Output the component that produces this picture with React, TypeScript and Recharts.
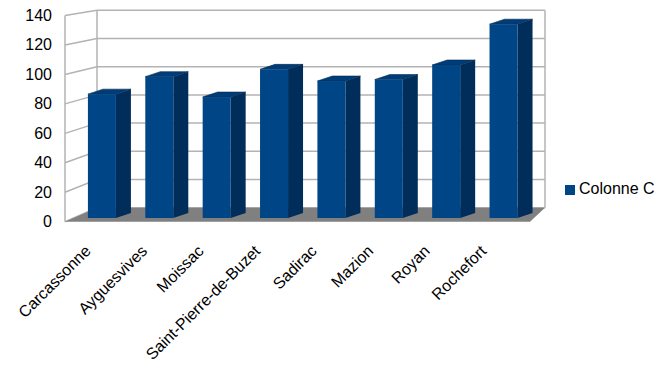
import React from 'react';
import { BarChart, Bar, XAxis, YAxis, CartesianGrid, Legend } from 'recharts';

const cities = ['Carcassonne', 'Ayguesvives', 'Moissac', 'Saint-Pierre-de-Buzet', 'Sadirac', 'Mazion', 'Royan', 'Rochefort'];
const colonneC = [85, 97, 83, 102, 94, 95, 105, 133];
const yTicks = [0, 20, 40, 60, 80, 100, 120, 140];

const data = cities.map((city, i) => ({ city, c: colonneC[i] }));

const W = 672;
const H = 378;
const MARGIN = { top: 14, right: 140, bottom: 0, left: 1 };
const Y_AXIS_W = 72;
const X_AXIS_H = 160;
const PLOT_LEFT = MARGIN.left + Y_AXIS_W;
const PLOT_RIGHT = W - MARGIN.right;
const PLOT_BOTTOM = H - MARGIN.bottom - X_AXIS_H;

const FONT = '"Liberation Sans", Arial, sans-serif';
const GRID = '#b3b3b3';
const FRONT = '#004586';
const SIDE = '#002d5a';
const TOP = '#003d78';

// fake 3D box around the bar plane
const FRONT_X = PLOT_LEFT - 8;
const BACK_LEFT = PLOT_LEFT + 24;
const BACK_RIGHT = PLOT_RIGHT + 13;
const FLOOR_RIGHT = PLOT_RIGHT - 2;
const frontY = (y: number) => PLOT_BOTTOM + 3.7 + (y - PLOT_BOTTOM) * 1.0106;
const backY = (y: number) => PLOT_BOTTOM - 10.3 + (y - PLOT_BOTTOM) * 0.9677;

// bar depth
const DX = 15;
const DY = 5;

const pts = (p: number[][]) => p.map(([a, b]) => `${a},${b}`).join(' ');

const renderGridLine = (props: any) => {
  const { y1, index } = props;
  const fy = frontY(y1);
  const by = backY(y1);
  const isTop = Math.abs(y1 - MARGIN.top) < 0.5;
  const isBottom = Math.abs(y1 - PLOT_BOTTOM) < 0.5;
  const fb = frontY(PLOT_BOTTOM);
  const bb = backY(PLOT_BOTTOM);
  return (
    <g key={`grid-${index}`}>
      <line x1={FRONT_X} y1={fy} x2={BACK_LEFT} y2={by} stroke={GRID} strokeWidth={1.5} />
      <line x1={BACK_LEFT} y1={by} x2={BACK_RIGHT} y2={by} stroke={GRID} strokeWidth={1.5} />
      {isTop && (
        <>
          <line x1={FRONT_X} y1={fy} x2={FRONT_X} y2={fb} stroke={GRID} strokeWidth={1.5} />
          <line x1={BACK_LEFT} y1={by} x2={BACK_LEFT} y2={bb} stroke={GRID} strokeWidth={1.5} />
          <line x1={BACK_RIGHT} y1={by} x2={BACK_RIGHT} y2={bb} stroke={GRID} strokeWidth={1.5} />
        </>
      )}
      {isBottom && (
        <polygon
          points={pts([[FRONT_X, fb], [FLOOR_RIGHT, fb], [BACK_RIGHT, bb], [BACK_LEFT, bb]])}
          fill="#808080"
        />
      )}
    </g>
  );
};

const Bar3D = (props: any) => {
  const { x, y, width, height } = props;
  if (height == null || height <= 0) return null;
  const b = y + height;
  return (
    <g>
      <polygon points={pts([[x + width, y], [x + width + DX, y - DY], [x + width + DX, b - DY], [x + width, b]])} fill={SIDE} />
      <polygon points={pts([[x, y], [x + DX, y - DY], [x + width + DX, y - DY], [x + width, y]])} fill={TOP} stroke="#00284f" strokeWidth={0.6} />
      <rect x={x} y={y} width={width} height={height} fill={FRONT} />
    </g>
  );
};

const YTick = (props: any) => {
  const { y, payload } = props;
  return (
    <text x={FRONT_X - 13} y={frontY(y)} textAnchor="end" dominantBaseline="central" fontFamily={FONT} fontSize={16} fill="#000">
      {payload.value}
    </text>
  );
};

const XTick = (props: any) => {
  const { x, payload } = props;
  const ax = x - 10 - (x - PLOT_LEFT - 28.7) * 0.015;
  const ay = PLOT_BOTTOM + 34;
  return (
    <text x={ax} y={ay} textAnchor="end" transform={`rotate(-45 ${ax} ${ay})`} fontFamily={FONT} fontSize={16} fill="#000">
      {payload.value}
    </text>
  );
};

export default function App() {
  return (
    <div style={{ position: 'absolute', left: 0, top: 0, width: W, height: H, background: '#fff', fontFamily: FONT }}>
      <BarChart width={W} height={H} data={data} margin={MARGIN} barCategoryGap="26%">
        <CartesianGrid vertical={false} horizontal={renderGridLine} />
        <XAxis dataKey="city" height={X_AXIS_H} interval={0} axisLine={false} tickLine={false} tick={<XTick />} />
        <YAxis width={Y_AXIS_W} domain={[0, 140]} ticks={yTicks} axisLine={false} tickLine={false} tick={<YTick />} />
        <Legend
          layout="vertical"
          align="center"
          verticalAlign="middle"
          iconType="square"
          iconSize={10}
          wrapperStyle={{ left: 565, top: 180, fontSize: 16, fontFamily: FONT }}
          formatter={(v: string) => <span style={{ color: '#000' }}>{v}</span>}
        />
        <Bar dataKey="c" name="Colonne C" fill={FRONT} shape={Bar3D} isAnimationActive={false} />
      </BarChart>
    </div>
  );
}
